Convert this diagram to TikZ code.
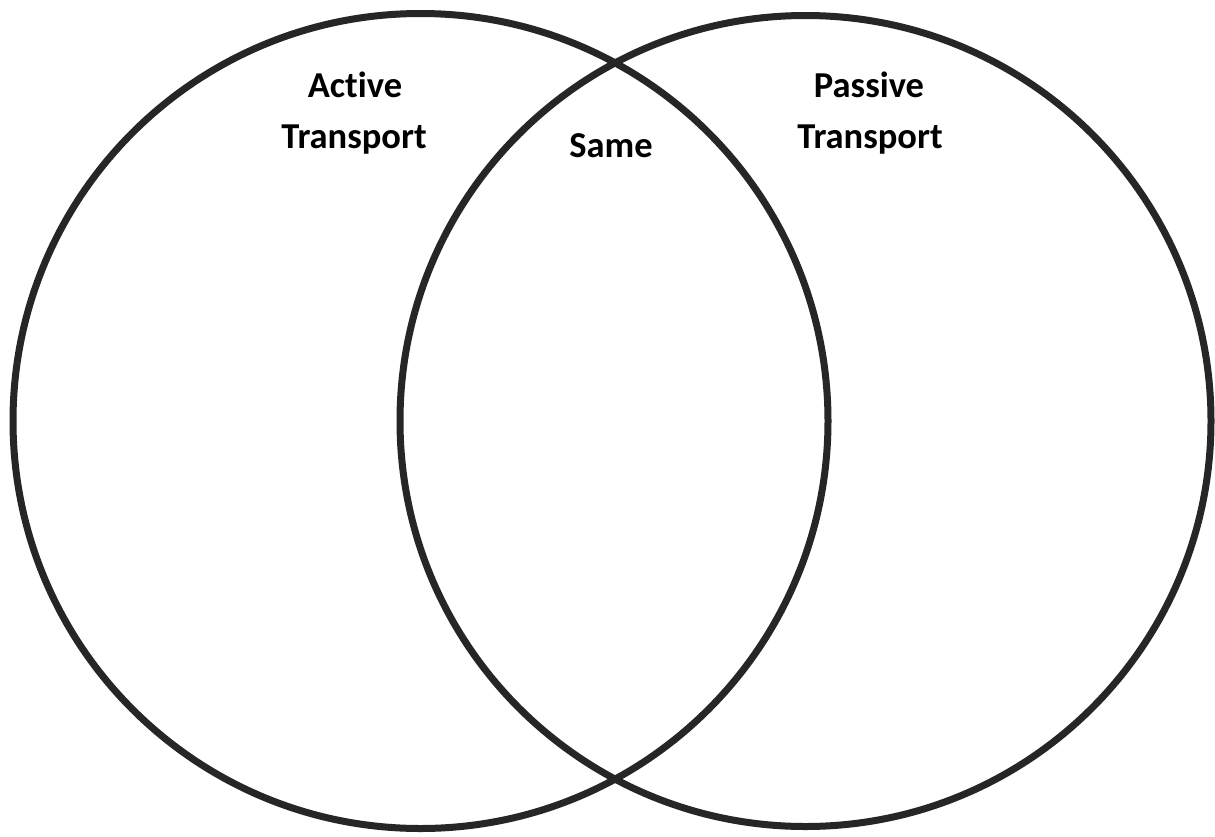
\documentclass[tikz,border=0pt]{standalone}
\usepackage{fontspec}
\setmainfont{Carlito}[Ligatures=NoCommon]
\begin{document}
\begin{tikzpicture}[x=1pt,y=1pt,
  ring/.style={draw=black!85,line width=7pt},
  lbl/.style={font=\fontsize{36.5}{51}\selectfont\bfseries,anchor=base,inner sep=0pt}]
\useasboundingbox (0,0) rectangle (1215,-836);
\fill[white] (0,0) rectangle (1215,-836);
\node[ring,circle,minimum size=815pt,inner sep=0pt] (left) at (420.5,-421) {};
\node[ring,circle,minimum size=811pt,inner sep=0pt] (right) at (805.5,-421) {};
\node[lbl] (active1) at (355,-97.5) {Active};
\node[lbl] (active2) at (354,-148.5) {Transport};
\node[lbl] (same) at (611,-157) {Same};
\node[lbl] (passive1) at (869,-97.5) {Passive};
\node[lbl] (passive2) at (870,-148.5) {Transport};
\end{tikzpicture}
\end{document}
